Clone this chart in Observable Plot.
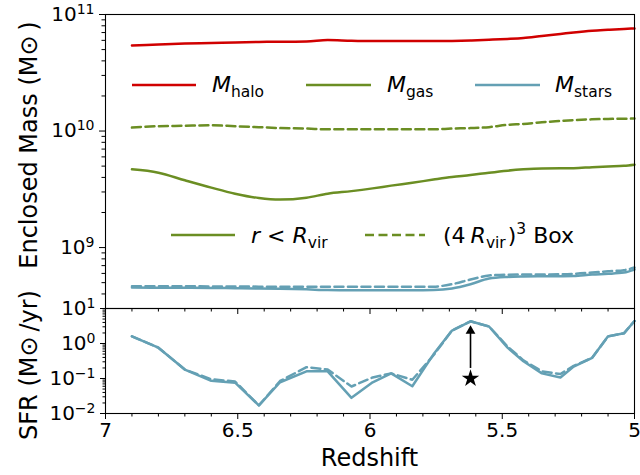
<!DOCTYPE html>
<html><head><meta charset="utf-8">
<script src="https://cdn.jsdelivr.net/npm/d3@7"></script>
<script src="https://cdn.jsdelivr.net/npm/@observablehq/plot@0.6"></script>
<style>
html,body{margin:0;padding:0;background:#fff;}
#fig{position:relative;width:640px;height:475px;font-family:"DejaVu Sans",sans-serif;overflow:hidden;background:#fff;}
#fig svg{position:absolute;left:0;overflow:visible;}
</style></head><body><div id="fig"></div>
<script>
// ---- data ----
const redshift     = [6.90, 6.80, 6.70, 6.60, 6.51, 6.42, 6.34, 6.24, 6.16, 6.07, 5.99, 5.92, 5.84, 5.76, 5.69, 5.62, 5.55, 5.48, 5.42, 5.35, 5.28, 5.23, 5.16, 5.10, 5.04, 5.00];
const massHalo     = [5.42e10,5.53e10,5.64e10,5.70e10,5.76e10,5.81e10,5.84e10,5.87e10,6.05e10,5.95e10,5.91e10,5.91e10,5.91e10,5.91e10,5.93e10,5.99e10,6.07e10,6.17e10,6.29e10,6.55e10,6.81e10,7.01e10,7.25e10,7.39e10,7.52e10,7.59e10];
const massGasVir   = [4.69e9,4.39e9,3.78e9,3.27e9,2.90e9,2.66e9,2.58e9,2.68e9,2.90e9,3.05e9,3.22e9,3.40e9,3.60e9,3.83e9,4.03e9,4.19e9,4.39e9,4.57e9,4.69e9,4.78e9,4.80e9,4.80e9,4.90e9,4.97e9,5.03e9,5.14e9];
const massGasBox   = [1.07e10,1.10e10,1.11e10,1.12e10,1.10e10,1.08e10,1.06e10,1.05e10,1.035e10,1.035e10,1.035e10,1.035e10,1.035e10,1.035e10,1.05e10,1.06e10,1.08e10,1.13e10,1.15e10,1.19e10,1.22e10,1.24e10,1.26e10,1.27e10,1.275e10,1.28e10];
const massStarsVir = [4.54e8,4.52e8,4.52e8,4.50e8,4.48e8,4.46e8,4.44e8,4.38e8,4.32e8,4.30e8,4.30e8,4.30e8,4.30e8,4.32e8,4.46e8,4.85e8,5.42e8,5.60e8,5.65e8,5.67e8,5.68e8,5.70e8,5.88e8,5.95e8,6.10e8,6.47e8];
const massStarsBox = [4.66e8,4.66e8,4.66e8,4.64e8,4.64e8,4.62e8,4.62e8,4.60e8,4.60e8,4.60e8,4.60e8,4.60e8,4.60e8,4.62e8,4.85e8,5.32e8,5.76e8,5.85e8,5.87e8,5.88e8,5.90e8,5.95e8,6.10e8,6.25e8,6.40e8,6.74e8];
const sfrVir       = [1.6,0.76,0.18,0.086,0.076,0.017,0.078,0.16,0.16,0.028,0.078,0.14,0.06,0.49,2.35,4.3,3.07,0.76,0.31,0.14,0.107,0.22,0.39,1.6,1.95,4.4];
const sfrBox       = [1.6,0.76,0.18,0.095,0.082,0.017,0.085,0.21,0.18,0.059,0.107,0.14,0.092,0.46,2.35,4.3,3.07,0.82,0.33,0.16,0.134,0.23,0.39,1.6,1.95,4.4];
const massTicks    = [1e9, 1e10, 1e11];
const sfrTicks     = [1e-2, 1e-1, 1e0, 1e1];
const zTicks       = [7, 6.5, 6, 5.5, 5];
const markerZ      = [5.62];
const markerSFR    = [0.1];
const arrowTail    = [0.2];
const arrowTip     = [2.6];
const arrowHead    = [2.3];

const RED = "#d00000", GREEN = "#6b8e23", BLUE = "#64a0b4";
const FONT = "DejaVu Sans";

const rows = redshift.map((z, i) => ({
  z, halo: massHalo[i], gasVir: massGasVir[i], gasBox: massGasBox[i],
  starsVir: massStarsVir[i], starsBox: massStarsBox[i], sfrVir: sfrVir[i], sfrBox: sfrBox[i]
}));
const ann = markerZ.map((z, i) => ({z, sfr: markerSFR[i], tail: arrowTail[i], tip: arrowTip[i], head: arrowHead[i]}));

function minorLog(lo, hi) {
  const t = [];
  for (let e = Math.floor(Math.log10(lo)); e < Math.log10(hi); e++)
    for (let m = 2; m < 10; m++) { const v = m * Math.pow(10, e); if (v >= lo * 0.999 && v <= hi) t.push(v); }
  return t;
}
const zMinor = d3.range(50, 71).map(k => k / 10).filter(v => !zTicks.includes(v));
const expFmt = d => "10^" + Math.round(Math.log10(d));
const blank = () => "";

const topPlot = Plot.plot({
  width: 640, height: 308, marginTop: 14, marginBottom: 0, marginLeft: 105, marginRight: 6,
  style: {fontFamily: FONT, background: "transparent", color: "#000"},
  x: {domain: [7, 5]},
  y: {type: "log", domain: [3e8, 1e11]},
  marks: [
    Plot.axisY(minorLog(3e8, 1e11), {tickSize: 3.5, tickFormat: blank, label: null}),
    Plot.axisY(massTicks, {tickSize: 6, tickPadding: 5, tickFormat: expFmt, fontSize: 20, label: null}),
    Plot.axisX(zMinor, {anchor: "bottom", tickSize: 3.5, tickFormat: blank, label: null}),
    Plot.axisX(zTicks, {anchor: "bottom", tickSize: 6, tickFormat: blank, label: null}),
    Plot.line(rows, {x: "z", y: "halo", stroke: RED, strokeWidth: 2.5, curve: "monotone-x"}),
    Plot.line(rows, {x: "z", y: "gasBox", stroke: GREEN, strokeWidth: 2.5, strokeDasharray: "9,4.5", curve: "monotone-x"}),
    Plot.line(rows, {x: "z", y: "gasVir", stroke: GREEN, strokeWidth: 2.5, curve: "monotone-x"}),
    Plot.line(rows, {x: "z", y: "starsBox", stroke: BLUE, strokeWidth: 2.5, strokeDasharray: "9,4.5", curve: "monotone-x"}),
    Plot.line(rows, {x: "z", y: "starsVir", stroke: BLUE, strokeWidth: 2.5, curve: "monotone-x"}),
    Plot.frame({stroke: "#000", strokeWidth: 1.1})
  ]
});

const botPlot = Plot.plot({
  width: 640, height: 167, marginTop: 0, marginBottom: 62, marginLeft: 105, marginRight: 6,
  style: {fontFamily: FONT, background: "transparent", color: "#000"},
  x: {domain: [7, 5]},
  y: {type: "log", domain: [0.01, 10]},
  marks: [
    Plot.axisY(minorLog(0.01, 10), {tickSize: 2.5, tickFormat: blank, label: null}),
    Plot.axisY(sfrTicks, {tickSize: 5, tickPadding: 5, tickFormat: expFmt, fontSize: 20, label: null}),
    Plot.axisX(zMinor, {anchor: "bottom", tickSize: 3.5, tickFormat: blank, label: null}),
    Plot.axisX(zTicks, {anchor: "bottom", tickSize: 6, tickPadding: 3, fontSize: 20, tickFormat: d => String(d), label: null}),
    Plot.line(rows, {x: "z", y: "sfrBox", stroke: BLUE, strokeWidth: 2.5, strokeDasharray: "9,4.5"}),
    Plot.line(rows, {x: "z", y: "sfrVir", stroke: BLUE, strokeWidth: 2.5}),
    Plot.link(ann, {x1: "z", x2: "z", y1: "tail", y2: "tip", stroke: "#000", strokeWidth: 1.6}),
    Plot.dot(ann, {x: "z", y: "head", symbol: "triangle", fill: "#000", stroke: "none", r: 3.6}),
    Plot.dot(ann, {x: "z", y: "sfr", symbol: "star", fill: "#000", stroke: "none", r: 5.5}),
    Plot.frame({stroke: "#000", strokeWidth: 1.1})
  ]
});

function supify(svg) {
  svg.querySelectorAll("text").forEach(t => {
    const s = t.textContent;
    if (s.includes("^")) {
      const [b, e] = s.split("^");
      t.textContent = b;
      const ts = document.createElementNS("http://www.w3.org/2000/svg", "tspan");
      ts.setAttribute("dy", "-0.5em");
      ts.setAttribute("font-size", "14");
      ts.textContent = e.replace("-", "\u2212");
      t.appendChild(ts);
    }
  });
}
supify(topPlot); supify(botPlot);

const fig = document.getElementById("fig");
topPlot.style.top = "0px";
botPlot.style.top = "308px";
fig.appendChild(topPlot);
fig.appendChild(botPlot);

// ---- overlay: axis labels and in-plot legend ----
const NS = "http://www.w3.org/2000/svg";
const ov = document.createElementNS(NS, "svg");
ov.setAttribute("width", 640); ov.setAttribute("height", 475);
ov.style.top = "0px";
ov.setAttribute("font-family", FONT);
ov.innerHTML = `
  <text transform="translate(37,145) rotate(-90)" text-anchor="middle" font-size="24">Enclosed Mass (M\u2299\u2009)</text>
  <text transform="translate(37,365) rotate(-90)" text-anchor="middle" font-size="24">SFR (M\u2299\u2009/yr)</text>
  <text x="369.5" y="466" text-anchor="middle" font-size="24">Redshift</text>
  <g font-size="22">
    <line x1="132" x2="196" y1="85" y2="85" stroke="${RED}" stroke-width="2.5"/>
    <text x="212" y="92"><tspan font-style="italic">M</tspan><tspan font-size="15.5" dy="5">halo</tspan></text>
    <line x1="306" x2="371" y1="85" y2="85" stroke="${GREEN}" stroke-width="2.5"/>
    <text x="387" y="92"><tspan font-style="italic">M</tspan><tspan font-size="15.5" dy="5">gas</tspan></text>
    <line x1="475" x2="540" y1="85" y2="85" stroke="${BLUE}" stroke-width="2.5"/>
    <text x="555" y="92"><tspan font-style="italic">M</tspan><tspan font-size="15.5" dy="5">stars</tspan></text>
    <line x1="171" x2="235" y1="235" y2="235" stroke="${GREEN}" stroke-width="2.5"/>
    <text x="251" y="243"><tspan font-style="italic">r</tspan> &lt; <tspan font-style="italic">R</tspan><tspan font-size="15.5" dy="5">vir</tspan></text>
    <line x1="365" x2="425" y1="235" y2="235" stroke="${GREEN}" stroke-width="2.5" stroke-dasharray="9,4.5"/>
    <text x="443" y="243">(4<tspan font-style="italic" dx="5">R</tspan><tspan font-size="15.5" dy="5">vir</tspan><tspan dy="-5" dx="2">)</tspan><tspan font-size="15.5" dy="-9">3</tspan><tspan dy="9"> Box</tspan></text>
  </g>`;
fig.appendChild(ov);
</script></body></html>
